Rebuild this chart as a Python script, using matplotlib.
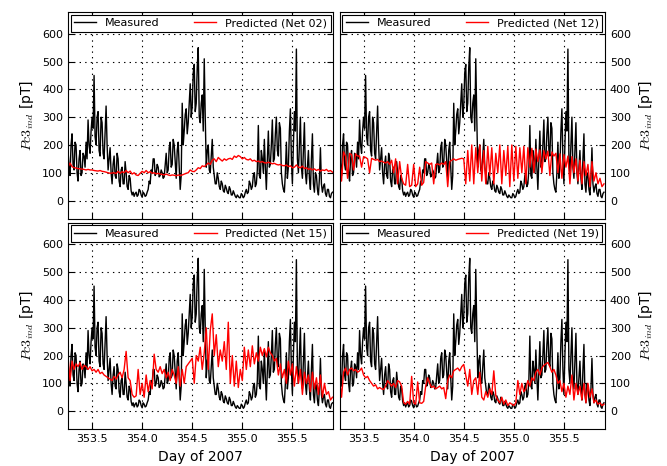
### Measured vs predicted Pc3 pulsation amplitude for four networks (2x2 panels)

import numpy as np
import matplotlib.pyplot as plt

day_start = 353.26
meas_step = 0.01
pred_step = 0.02

measured = [180, 120, 90, 200, 240, 130, 110, 210, 200, 100, 70, 150, 180, 90, 100, 170, 160, 120, 210, 150,
            290, 200, 170, 250, 300, 260, 450, 230, 200, 300, 320, 180, 160, 300, 280, 170, 150, 250, 340, 200,
            110, 150, 190, 100, 60, 130, 160, 90, 80, 170, 150, 70, 50, 110, 120, 60, 60, 140, 100, 50,
            40, 90, 80, 35, 20, 30, 15, 25, 30, 15, 20, 40, 35, 20, 12, 30, 25, 15, 18, 30,
            40, 70, 60, 110, 100, 150, 150, 90, 100, 130, 120, 85, 90, 110, 100, 80, 85, 130, 170, 100,
            110, 190, 210, 120, 130, 220, 200, 140, 80, 180, 210, 120, 40, 90, 350, 200, 250, 310, 330, 240,
            280, 350, 420, 300, 340, 460, 490, 320, 350, 480, 550, 300, 280, 350, 380, 250, 510, 300, 120, 180,
            200, 110, 100, 160, 220, 120, 90, 60, 60, 100, 80, 50, 40, 70, 60, 35, 30, 55, 45, 30,
            25, 50, 40, 20, 20, 35, 25, 15, 10, 20, 15, 10, 10, 25, 20, 10, 15, 30, 40, 25,
            30, 70, 60, 40, 50, 90, 100, 50, 60, 110, 270, 90, 80, 180, 150, 100, 220, 120, 40, 150,
            250, 120, 130, 200, 290, 140, 150, 240, 300, 180, 160, 280, 260, 100, 60, 40, 30, 100, 210, 80,
            120, 250, 330, 150, 60, 200, 320, 250, 545, 150, 100, 200, 300, 120, 80, 180, 280, 100, 60, 120,
            180, 80, 40, 150, 240, 60, 30, 100, 90, 40, 20, 80, 190, 60, 30, 50, 60, 25, 15, 40,
            40, 15, 10, 25, 30]

net02 = [120, 135, 122, 118, 117, 115, 114, 113, 112, 110,
         112, 110, 110, 108, 107, 106, 108, 105, 104, 102,
         100, 98, 99, 100, 97, 105, 98, 104, 100, 108,
         100, 106, 95, 100, 92, 90, 98, 105, 100, 108,
         100, 104, 98, 100, 96, 98, 95, 94, 92, 95,
         92, 90, 92, 91, 89, 92, 90, 92, 95, 98,
         100, 110, 105, 104, 110, 118, 115, 125, 122, 128,
         135, 130, 145, 150, 140, 155, 148, 142, 150, 145,
         150, 152, 148, 160, 155, 162, 158, 150, 155, 148,
         146, 150, 142, 145, 140, 142, 138, 140, 136, 135,
         138, 135, 132, 134, 130, 128, 130, 126, 125, 128,
         122, 125, 118, 120, 128, 120, 118, 124, 115, 118,
         112, 115, 110, 114, 108, 112, 106, 110, 108, 112,
         105, 108, 102]

net12 = [170, 70, 175, 160, 80, 170, 165, 110, 168, 160,
         160, 120, 158, 155, 150, 100, 152, 148, 145, 148,
         140, 142, 138, 135, 140, 130, 145, 100, 150, 60,
         140, 80, 60, 55, 130, 50, 55, 130, 50, 60,
         120, 55, 65, 140, 135, 130, 135, 60, 130, 132,
         128, 135, 130, 140, 50, 140, 145, 150, 145, 148,
         150, 152, 150, 60, 180, 70, 200, 60, 190, 100,
         200, 70, 180, 60, 195, 90, 190, 60, 170, 100,
         200, 60, 180, 90, 195, 50, 200, 70, 195, 80,
         190, 100, 195, 60, 190, 120, 188, 100, 185, 140,
         182, 100, 180, 150, 178, 90, 175, 160, 170, 100,
         168, 80, 165, 120, 160, 60, 158, 100, 150, 70,
         145, 60, 140, 90, 130, 50, 140, 70, 100, 60,
         80, 50, 60]

net15 = [195, 110, 180, 150, 170, 160, 175, 150, 165, 160,
         150, 160, 145, 150, 140, 150, 135, 140, 130, 125,
         120, 115, 110, 125, 115, 130, 140, 120, 150, 215,
         120, 110, 60, 50, 55, 150, 60, 100, 50, 130,
         70, 110, 80, 205, 150, 140, 160, 135, 150, 120,
         140, 110, 150, 130, 100, 160, 90, 150, 100, 160,
         170, 180, 190, 100, 200, 180, 230, 150, 210, 300,
         150, 290, 350, 200, 275, 160, 220, 180, 250, 150,
         320, 100, 200, 90, 180, 85, 150, 110, 230, 150,
         220, 160, 235, 170, 210, 180, 230, 200, 225, 195,
         230, 210, 200, 180, 190, 130, 170, 120, 150, 100,
         180, 130, 170, 90, 160, 100, 150, 60, 140, 100,
         130, 70, 140, 80, 120, 60, 130, 50, 100, 60,
         70, 40, 50]

net19 = [120, 50, 140, 155, 130, 150, 155, 145, 150, 140,
         145, 155, 130, 120, 125, 110, 100, 90, 95, 80,
         85, 80, 78, 90, 110, 100, 90, 100, 85, 110,
         105, 90, 30, 25, 35, 25, 125, 30, 25, 105,
         30, 28, 35, 90, 120, 100, 85, 90, 80, 85,
         90, 80, 85, 45, 110, 130, 120, 145, 150, 155,
         145, 160, 168, 130, 90, 150, 60, 110, 120, 60,
         140, 50, 40, 70, 50, 80, 60, 145, 55, 40,
         30, 50, 25, 40, 20, 30, 25, 20, 30, 110,
         60, 100, 70, 80, 110, 90, 120, 110, 140, 150,
         130, 155, 165, 170, 175, 160, 140, 150, 130, 100,
         110, 70, 100, 50, 90, 60, 130, 40, 100, 60,
         90, 40, 100, 30, 100, 50, 80, 30, 40, 25,
         30, 20, 25]

predictions = [("Net 02", net02), ("Net 12", net12),
               ("Net 15", net15), ("Net 19", net19)]

plt.rcParams['mathtext.fontset'] = 'cm'
plt.rcParams['xtick.direction'] = 'in'
plt.rcParams['ytick.direction'] = 'in'
plt.rcParams['xtick.top'] = True
plt.rcParams['ytick.right'] = True
plt.rcParams['lines.scale_dashes'] = False


def main():
    meas_days = day_start + meas_step * np.arange(len(measured))
    pred_days = day_start + pred_step * np.arange(len(net02))
    fig, axes = plt.subplots(2, 2, figsize=(6.67, 4.66), dpi=100,
                             sharex=True, sharey=True)
    fig.subplots_adjust(left=0.102, right=0.907, top=0.974, bottom=0.079,
                        wspace=0.023, hspace=0.02)

    for ax, (name, pred) in zip(axes.flat, predictions):
        ax.plot(meas_days, measured, color='k', lw=1, label="Measured")
        ax.plot(pred_days, pred, color='r', lw=1, label="Predicted (%s)" % name)
        ax.grid(True, color='k', linestyle=(0, (1, 3)), lw=0.8)
        ax.set_xlim(353.26, 355.91)
        ax.set_ylim(-65, 678)
        ax.set_xticks([353.5, 354.0, 354.5, 355.0, 355.5])
        ax.set_xticklabels(["353.5", "354.0", "354.5", "355.0", "355.5"])
        ax.set_yticks(np.arange(0, 700, 100))
        ax.tick_params(labelsize=8, length=4, width=0.8)
        ax.legend(loc='upper left', bbox_to_anchor=(0, 0, 1, 1), mode='expand',
                  ncol=2, fontsize=8, fancybox=False, edgecolor='k',
                  framealpha=1, borderaxespad=0.25, handlelength=2,
                  borderpad=0.3)
        ax.legend_.get_frame().set_linewidth(0.8)

    for ax in axes[:, 1]:
        ax.yaxis.tick_right()
        ax.yaxis.set_ticks_position('both')
        ax.tick_params(labelleft=False, labelright=True)
        ax.yaxis.set_label_position('right')
    for ax in axes.flat:
        ax.set_ylabel(r"$Pc3_{ind}$ [pT]", fontsize=10)
    for ax in axes[1, :]:
        ax.set_xlabel("Day of 2007", fontsize=10)

    fig.savefig("out.png")
    plt.close(fig)
    return "Saved out.png"


if __name__ == "__main__":
    status = main()
    print(status)
